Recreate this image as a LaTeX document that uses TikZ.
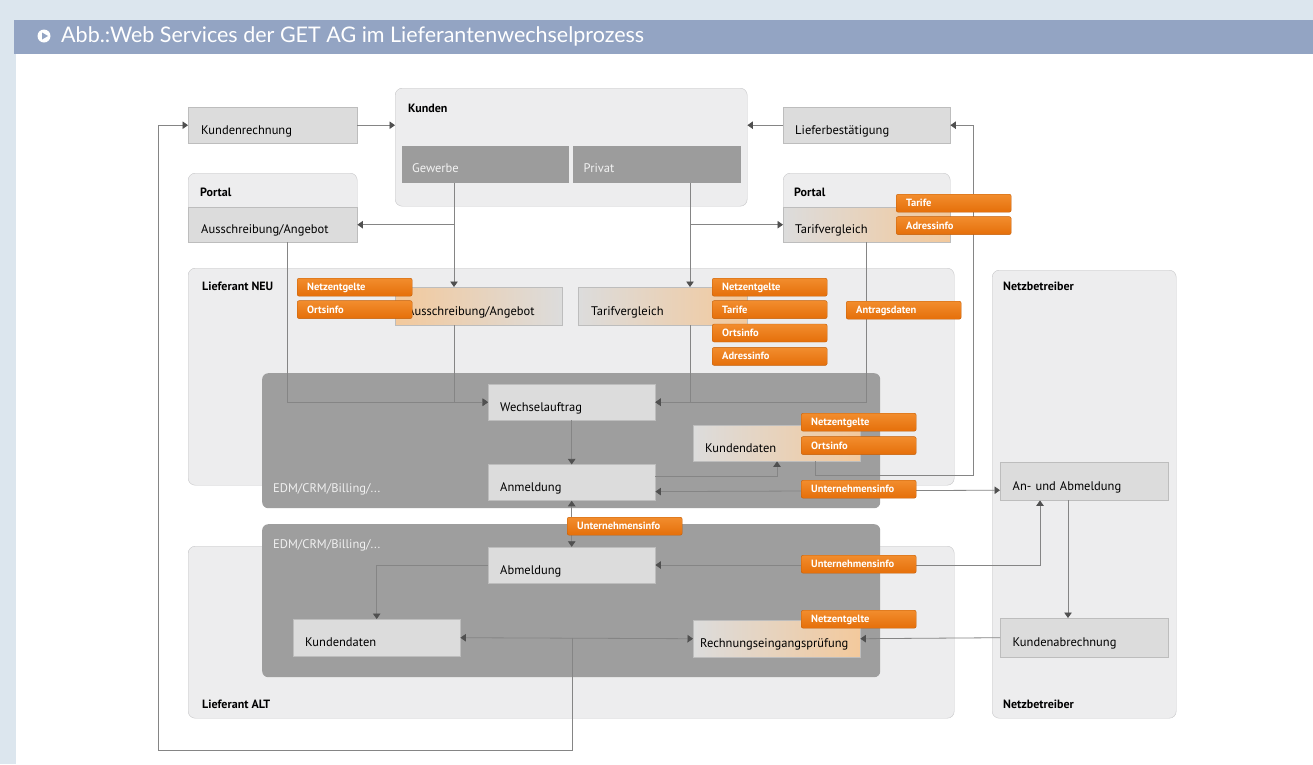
\documentclass[tikz,border=0pt]{standalone}
\usepackage{fontspec}
\setmainfont{PT Sans}
\newfontfamily\headfont{Lato}
\usetikzlibrary{arrows.meta, positioning}

\definecolor{pageblue}{HTML}{DCE6EE}
\definecolor{headblue}{HTML}{93A4C3}
\definecolor{contfill}{HTML}{EDEDEE}
\definecolor{contline}{HTML}{C6C6C8}
\definecolor{procfill}{HTML}{DCDCDC}
\definecolor{procline}{HTML}{BDBDBD}
\definecolor{darkbox}{HTML}{9E9E9E}
\definecolor{subgray}{HTML}{9C9C9C}
\definecolor{linegray}{HTML}{858585}
\definecolor{tipgray}{HTML}{505050}
\definecolor{tagorange}{HTML}{E56F0A}
\definecolor{taglight}{HTML}{F28D2E}
\definecolor{peach}{HTML}{F3C99C}

\begin{document}
\begin{tikzpicture}[
  x=1pt, y=-1pt,
  font=\fontsize{12.5}{14}\selectfont,
  container/.style={
    draw=contline,
    fill=contfill,
    rounded corners=7pt,
    anchor=north west,
    inner sep=0pt
  },
  lbl/.style={anchor=base west, inner sep=0pt, font=\fontsize{12}{14}\selectfont\bfseries},
  edmlbl/.style={anchor=base west, inner sep=0pt, text=white!88!gray},
  proc/.style={
    draw=procline,
    fill=procfill,
    anchor=north west,
    minimum width=167pt,
    minimum height=36pt,
    text width=143pt,
    align=left,
    inner sep=2pt,
    text height=18pt,
    text depth=0pt
  },
  sub/.style={
    fill=subgray,
    text=white!90!gray,
    anchor=north west,
    minimum width=167pt,
    minimum height=37pt,
    text width=147pt,
    align=left,
    inner sep=0pt,
    text height=16pt,
    text depth=0pt
  },
  warm/.style={left color=procfill, middle color=procfill, right color=peach},
  warmleft/.style={left color=peach, middle color=procfill, right color=procfill},
  tag/.style={
    draw=tagorange!85!black,
    top color=taglight,
    bottom color=tagorange,
    rounded corners=2pt,
    anchor=north west,
    minimum width=115pt,
    minimum height=18pt,
    text width=95pt,
    align=left,
    inner sep=0pt,
    text height=7pt,
    text depth=0pt,
    text=white,
    font=\fontsize{10.5}{12}\selectfont\bfseries
  },
  link/.style={draw=linegray, line width=0.8pt},
  arrow/.style={link, -{Triangle[width=7.5pt,length=5.5pt,color=tipgray]}},
  biarrow/.style={link, {Triangle[width=7.5pt,length=5.5pt,color=tipgray]}-{Triangle[width=7.5pt,length=5.5pt,color=tipgray]}}
]
\useasboundingbox (0,0) rectangle (1313,764);

% --- page and title bar ---
\fill[pageblue] (0,0) rectangle (1313,764);
\fill[headblue] (14,20) rectangle (1313,54);
\fill[white] (16,54) rectangle (1313,764);
\node[circle, fill=white, minimum size=13pt, inner sep=0pt] (icon) at (44,36) {};
\fill[headblue] ([shift={(-2,-3.5)}]icon.center) -- ([shift={(4,0)}]icon.center)
  -- ([shift={(-2,3.5)}]icon.center) -- cycle;
\node[anchor=west, text=white, inner sep=0pt, font=\headfont\fontsize{21.5}{24}\selectfont] (title)
  at (61,36) {Abb.:Web Services der GET AG im Lieferantenwechselprozess};

% --- column coordinates for the connectors ---
\coordinate (colLoop) at (158,750);
\coordinate (colPL) at (287,0);
\coordinate (colG) at (454,0);
\coordinate (colMid) at (572,0);
\coordinate (colP) at (690,0);
\coordinate (colKd) at (777,0);
\coordinate (colKdOut) at (815,0);
\coordinate (colPT) at (866,0);
\coordinate (colRight) at (973,475);
\coordinate (colAb) at (1040,0);
\coordinate (colNb) at (1068,0);

% --- containers ---
\node[container, minimum width=766pt, minimum height=172pt] (altbox) at (188,546) {};
\node[container, minimum width=766pt, minimum height=217pt] (neubox) at (188,268) {};
\node[container, minimum width=184pt, minimum height=448pt] (netzbox) at (992,270) {};
\node[container, minimum width=352pt, minimum height=118pt] (kunden) at (395,88) {};
\node[container, minimum width=169pt, minimum height=69pt] (portalL) at (188,173) {};
\node[container, minimum width=167pt, minimum height=69pt] (portalR) at (783,173) {};

\node[lbl] (kundenlbl) at (408,112) {Kunden};
\node[lbl] (portalLlbl) at (200,196) {Portal};
\node[lbl] (portalRlbl) at (794,196) {Portal};
\node[lbl] (neulbl) at (202,290) {Lieferant NEU};
\node[lbl] (altlbl) at (202,708) {Lieferant ALT};
\node[lbl] (netzlbl) at (1003,290) {Netzbetreiber};
\node[lbl] (netzlblb) at (1003,708) {Netzbetreiber};

% --- EDM/CRM/Billing blocks ---
\node[fill=darkbox, rounded corners=6pt, anchor=north west, inner sep=0pt,
  minimum width=618pt, minimum height=135pt] (edmNeu) at (262,373) {};
\node[fill=darkbox, rounded corners=6pt, anchor=north west, inner sep=0pt,
  minimum width=618pt, minimum height=153pt] (edmAlt) at (262,524) {};
\node[edmlbl] (edmNeulbl) at (273,492) {EDM/CRM/Billing/...};
\node[edmlbl] (edmAltlbl) at (273,548) {EDM/CRM/Billing/...};

% --- Kunden ---
\node[sub] (gewerbe) at (402,146) {Gewerbe};
\node[sub, minimum width=168pt] (privat) at (573,146) {Privat};

% --- process boxes ---
\node[proc, minimum width=169pt] (krech) at (188,107) {Kundenrechnung};
\node[proc] (liefer) at (783,107) {Lieferbestätigung};
\node[proc, minimum width=169pt, minimum height=35pt] (auspL) at (188,207) {Ausschreibung/Angebot};
\node[proc, warm, minimum height=35pt] (tarifP) at (783,207) {Tarifvergleich};
\node[proc, warmleft, minimum height=38pt] (ausNeu) at (395,287) {Ausschreibung/Angebot};
\node[proc, warm, minimum width=169pt, minimum height=38pt] (tarifNeu) at (578,287) {Tarifvergleich};

\node[proc] (wechsel) at (488,384) {Wechselauftrag};
\node[proc, below=44pt of wechsel] (anmeld) {Anmeldung};
\node[proc, warm] (kdNeu) at (693,425) {Kundendaten};
\node[proc, below=46pt of anmeld] (abmeld) {Abmeldung};
\node[proc, minimum height=37pt] (kdAlt) at (293,619) {Kundendaten};
\node[proc, warm, minimum height=37pt, text width=153pt] (rechnung) at (693,620) {Rechnungseingangsprüfung};

\node[proc, minimum width=168pt, minimum height=38pt] (anab) at (1000,462) {An- und Abmeldung};
\node[proc, minimum width=168pt, minimum height=39pt] (kabr) at (1000,618) {Kundenabrechnung};

% --- connectors ---
\draw[arrow] (kdAlt.east -| colMid) |- (colLoop) |- (krech.west);
\draw[arrow] (krech.east) -- (krech.east -| kunden.west);
\draw[arrow] (kdNeu.south -| colKdOut) |- (colRight) |- (liefer.east);
\draw[arrow] (liefer.west) -- (liefer.west -| kunden.east);

\draw[arrow] (gewerbe.south -| colG) -- (ausNeu.north -| colG);
\draw[arrow] (auspL.east -| colG) -- (auspL.east);
\draw[arrow] (privat.south -| colP) -- (tarifNeu.north -| colP);
\draw[arrow] (tarifP.west -| colP) -- (tarifP.west);

\draw[arrow] (auspL.south -| colPL) |- (wechsel.west);
\draw[arrow] (ausNeu.south -| colG) |- (wechsel.west);
\draw[arrow] (tarifNeu.south -| colP) |- (wechsel.east);
\draw[arrow] (tarifP.south -| colPT) |- (wechsel.east);

\draw[arrow] (wechsel.south) -- (anmeld.north);
\draw[arrow] ([yshift=6pt]anmeld.east) -| (kdNeu.south -| colKd);
\draw[biarrow] ([yshift=-9pt]anmeld.east) -- ([yshift=-9pt]anab.west);
\draw[biarrow] (anmeld.south) -- (abmeld.north);
\draw[biarrow] (abmeld.east) -| (anab.south -| colAb);
\draw[arrow] (anab.south -| colNb) -- (kabr.north -| colNb);
\draw[arrow] (abmeld.west) -| (kdAlt.north);
\draw[biarrow] (kdAlt.east) -- (rechnung.west);
\draw[arrow] (kabr.west) -- (rechnung.east);

% --- data tags ---
\node[tag] (tagNetzA) at (297,278) {Netzentgelte};
\node[tag, below=4pt of tagNetzA] (tagOrtA) {Ortsinfo};

\node[tag] (tagTarifP) at (896,194) {Tarife};
\node[tag, below=4pt of tagTarifP] (tagAdrP) {Adressinfo};

\node[tag] (tagNetzB) at (712,278) {Netzentgelte};
\node[tag, below=4pt of tagNetzB] (tagTarifB) {Tarife};
\node[tag, below=5pt of tagTarifB] (tagOrtB) {Ortsinfo};
\node[tag, below=5pt of tagOrtB] (tagAdrB) {Adressinfo};
\node[tag] (tagAntrag) at (846,301) {Antragsdaten};

\node[tag] (tagNetzC) at (801,413) {Netzentgelte};
\node[tag, below=5pt of tagNetzC] (tagOrtC) {Ortsinfo};
\node[tag] (tagUntA) at (801,480) {Unternehmensinfo};
\node[tag] (tagUntB) at (567,517) {Unternehmensinfo};
\node[tag] (tagUntC) at (801,555) {Unternehmensinfo};
\node[tag] (tagNetzD) at (801,610) {Netzentgelte};

\end{tikzpicture}
\end{document}
